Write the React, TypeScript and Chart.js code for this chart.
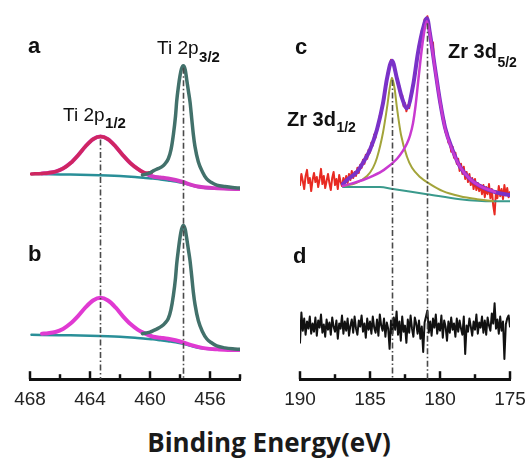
import React, { useEffect, useRef } from "react";
import { Chart, registerables } from "chart.js";

Chart.register(...registerables);

// ---------------- Ti 2p (panels a and b) ----------------
const TI_TICKS = [468, 466, 464, 462, 460, 458, 456, 454];
const TI_MAJOR = [468, 464, 460, 456];

const TI_BG_E = [467.9, 466, 464, 462, 461, 460.3, 459.8, 459.3, 458.8, 458.3, 457.8, 457.3, 456.8, 456.3, 455.5, 454];
const TI_BG_A = [203, 202.5, 202, 201, 200, 199, 198.5, 197.5, 196.5, 195.5, 194, 192, 190, 189, 188.5, 188];
const TI_BG_B = [44, 43.5, 43, 42, 41, 40, 39.5, 38.5, 37.5, 36.5, 35, 33, 31, 30, 29.5, 29];

const TI_P12_E = [467.2, 466.8, 466.3, 465.8, 465.3, 464.8, 464.3, 463.8, 463.3, 462.8, 462.3, 461.8, 461.3, 460.8, 460.3, 459.8, 459.3, 458.8, 458.3, 457.8, 457.3, 456.8, 456.3, 455.5, 454.8, 454];
const TI_P12_A = [203.5, 204, 205.3, 208.3, 213.7, 221.4, 230.2, 237.3, 240, 237.3, 230.2, 221.4, 213.5, 207.8, 203.5, 200.5, 199.5, 198.5, 197, 195, 192.5, 190.5, 189.5, 188.8, 188.3, 188];
const TI_P12_B = [45, 45.5, 46.7, 49.7, 55, 62.4, 71, 77.8, 80.5, 77.8, 71, 62.2, 54.5, 48.8, 45, 42, 41, 40, 38.5, 36.5, 34, 32, 30.5, 29.5, 29, 29];

const TI_RAW_E = [467.9, 467.2, 466.8, 466.3, 465.8, 465.3, 464.8, 464.3, 463.8, 463.3, 462.8, 462.3, 461.8, 461.3, 460.8, 460.3, 459.9];
const TI_RAW_A = [203, 203.5, 204, 205.3, 208.3, 213.7, 221.4, 230.2, 237.3, 240, 237.3, 230.2, 221.4, 213.5, 207.8, 204, 204.5];

const TI_P32_E = [460.5, 460.0, 459.78, 459.5, 459.22, 459.0, 458.78, 458.6, 458.44, 458.3, 458.22, 458.1, 458.0, 457.9, 457.78, 457.65, 457.55, 457.44, 457.33, 457.22, 457.11, 457.0, 456.78, 456.5, 456.22, 455.9, 455.55, 455.0, 454.5, 454.0];
const TI_P32_A = [202, 204, 206, 208, 210, 213, 218, 227, 242, 260, 275, 290, 300, 307, 310, 306, 296, 285, 274, 258, 242, 230, 215, 205, 198, 194.5, 192, 190.5, 189.5, 189];
const TI_P32_B = [45, 46.5, 48, 50, 52.5, 55.5, 60, 69, 83, 100, 114, 129, 140, 148, 152, 148, 139, 128, 117, 102, 86, 74, 58, 47, 40, 36, 33, 31, 30, 29.5];

const TI_VLINES_E = [463.33, 457.78];
const TI_VLINES_TOP = [237, 308];

// ---------------- Zr 3d (panels c and d) ----------------
const ZR_TICKS = [190, 187.5, 185, 182.5, 180, 177.5, 175];
const ZR_MAJOR = [190, 185, 180, 175];

const ZR_E = [
  190, 189.9, 189.8, 189.7, 189.6, 189.5, 189.4, 189.3, 189.2, 189.1,
  189, 188.9, 188.8, 188.7, 188.6, 188.5, 188.4, 188.3, 188.2, 188.1,
  188, 187.9, 187.8, 187.7, 187.6, 187.5, 187.4, 187.3, 187.2, 187.1,
  187, 186.9, 186.8, 186.7, 186.6, 186.5, 186.4, 186.3, 186.2, 186.1,
  186, 185.9, 185.8, 185.7, 185.6, 185.5, 185.4, 185.3, 185.2, 185.1,
  185, 184.9, 184.8, 184.7, 184.6, 184.5, 184.4, 184.3, 184.2, 184.1,
  184, 183.9, 183.8, 183.7, 183.6, 183.5, 183.4, 183.3, 183.2, 183.1,
  183, 182.9, 182.8, 182.7, 182.6, 182.5, 182.4, 182.3, 182.2, 182.1,
  182, 181.9, 181.8, 181.7, 181.6, 181.5, 181.4, 181.3, 181.2, 181.1,
  181, 180.9, 180.8, 180.7, 180.6, 180.5, 180.4, 180.3, 180.2, 180.1,
  180, 179.9, 179.8, 179.7, 179.6, 179.5, 179.4, 179.3, 179.2, 179.1,
  179, 178.9, 178.8, 178.7, 178.6, 178.5, 178.4, 178.3, 178.2, 178.1,
  178, 177.9, 177.8, 177.7, 177.6, 177.5, 177.4, 177.3, 177.2, 177.1,
  177, 176.9, 176.8, 176.7, 176.6, 176.5, 176.4, 176.3, 176.2, 176.1,
  176, 175.9, 175.8, 175.7, 175.6, 175.5, 175.4, 175.3, 175.2, 175.1,
  175,
];
const ZR_RAW_C = [
  192, 203, 196, 188, 201, 207, 194, 199, 186, 197,
  204, 195, 200, 190, 198, 208, 193, 201, 189, 196,
  203, 194, 187, 199, 205, 192, 198, 188, 202, 195,
  191, 199, 193, 201, 194, 203, 197, 206, 199, 205,
  201, 209, 204, 212, 209, 217, 213, 222, 218, 227,
  224, 234, 231, 242, 239, 249, 250, 261, 262, 273,
  275, 290, 294, 306, 307, 316, 314, 313, 303, 301,
  291, 290, 280, 281, 270, 273, 265, 271, 268, 280,
  282, 296, 298, 313, 318, 331, 334, 345, 346, 356,
  354, 359, 348, 343, 328, 333, 310, 304, 290, 286,
  272, 270, 257, 256, 244, 245, 234, 236, 225, 230,
  219, 224, 213, 218, 206, 213, 203, 210, 198, 205,
  195, 203, 192, 199, 188, 198, 187, 194, 186, 192,
  183, 192, 180, 190, 183, 193, 179, 188, 172, 163,
  186, 179, 191, 181, 188, 178, 192, 182, 189, 180,
  185,
];
const ZR_RAW_D = [
  36, 66, 48, 60, 44, 57, 50, 62, 45, 55,
  47, 61, 43, 58, 51, 64, 46, 54, 42, 59,
  49, 56, 44, 61, 52, 47, 58, 40, 55, 50,
  63, 45, 57, 48, 60, 43, 53, 59, 46, 62,
  50, 44, 58, 52, 63, 47, 55, 41, 60, 49,
  57, 45, 62, 51, 46, 59, 43, 64, 53, 48,
  60, 42, 56, 50, 30, 58, 45, 61, 49, 67,
  44, 57, 38, 62, 47, 53, 36, 59, 46, 63,
  50, 42, 61, 55, 45, 58, 40, 52, 27, 56,
  62, 68, 46, 57, 43, 60, 51, 64, 45, 55,
  48, 63, 41, 58, 52, 38, 57, 46, 61, 49,
  55, 42, 60, 47, 58, 50, 44, 62, 25, 53,
  47, 60, 52, 43, 57, 49, 64, 45, 56, 51,
  62, 46, 58, 44, 61, 53, 48, 65, 55, 75,
  50, 59, 45, 62, 48, 57, 20, 54, 60, 63,
  52,
];

const ZR_ENV_E = [186.93, 186.64, 185.93, 185.5, 185, 184.5, 184.07, 183.79, 183.43, 183.07, 182.71, 182.36, 181.93, 181.57, 181.21, 180.93, 180.71, 180.36, 180, 179.64, 179.14, 178.57, 177.86, 177.14, 176.07, 175];
const ZR_ENV = [193, 197, 205, 214, 227, 247, 273, 297, 315, 297, 278, 268, 290, 323, 347, 357, 341, 308, 275, 249, 228, 210, 198, 191, 185, 182];

const ZR_D52_E = [186.93, 185.5, 184.79, 184, 183.07, 182.64, 182.36, 182.14, 181.93, 181.75, 181.57, 181.39, 181.21, 180.93, 180.71, 180.36, 180, 179.64, 179.14, 178.57, 177.86, 177.14, 176.07];
const ZR_D52 = [191, 197, 201, 207, 218, 226, 233, 241, 253, 270, 293, 316, 336, 354, 340, 307, 275, 248, 227, 210, 198, 191, 185];

const ZR_D32_E = [186.93, 186, 185.21, 184.79, 184.5, 184.07, 183.79, 183.6, 183.43, 183.25, 183.07, 182.79, 182.36, 182, 181.43, 180.71, 179.79, 178.57, 177.36, 176.21];
const ZR_D32 = [191, 194, 201, 209, 219, 244, 268, 287, 298, 288, 268, 242, 220, 209, 200, 193, 186, 181, 178, 176];

const ZR_BG_E = [186.93, 184.29, 183.36, 180.93, 178.57, 176.21, 175];
const ZR_BG = [190, 190, 188, 183, 178, 176, 176];

const ZR_VLINES_E = [183.43, 180.93];
const ZR_VLINES_TOP = [296, 352];

// ---------------- helpers ----------------
const pts = (xs: number[], ys: number[]) => xs.map((x, i) => ({ x, y: ys[i] }));

const line = (label: string, data: any[], color: string, width: number, smooth = true) => ({
  label,
  data,
  borderColor: color,
  backgroundColor: color,
  borderWidth: width,
  pointRadius: 0,
  fill: false,
  tension: 0,
  cubicInterpolationMode: smooth ? "monotone" : "default",
  borderCapStyle: "round",
  borderJoinStyle: "round",
});

type TextItem = { e: number; i: number; text: string; font: string; sub?: string; subFont?: string; subDy?: number };

function decorPlugin(vE: number[], vTop: number[], texts: TextItem[], major: number[]) {
  return {
    id: "xpsDecor",
    afterDatasetsDraw(chart: any) {
      const { ctx, chartArea, scales } = chart;
      const xs = scales.x;
      const ys = scales.y;
      ctx.save();
      ctx.strokeStyle = "#4a4a4a";
      ctx.lineWidth = 1.6;
      ctx.setLineDash([6, 2.5, 1.5, 2.5]);
      vE.forEach((e, k) => {
        const px = Math.round(xs.getPixelForValue(e)) + 0.5;
        ctx.beginPath();
        ctx.moveTo(px, ys.getPixelForValue(vTop[k]));
        ctx.lineTo(px, chartArea.bottom);
        ctx.stroke();
      });
      ctx.restore();
    },
    afterDraw(chart: any) {
      const { ctx, chartArea, scales } = chart;
      const xs = scales.x;
      const ys = scales.y;
      ctx.save();
      ctx.strokeStyle = "#111";
      ctx.lineWidth = 2.5;
      xs.ticks.forEach((t: any) => {
        const px = xs.getPixelForValue(t.value);
        const len = major.includes(t.value) ? 8 : 5;
        ctx.beginPath();
        ctx.moveTo(px, chartArea.bottom);
        ctx.lineTo(px, chartArea.bottom - len);
        ctx.stroke();
      });
      ctx.fillStyle = "#111";
      ctx.textBaseline = "alphabetic";
      ctx.textAlign = "left";
      texts.forEach((t) => {
        const x = xs.getPixelForValue(t.e);
        const y = ys.getPixelForValue(t.i);
        ctx.font = t.font;
        ctx.fillText(t.text, x, y);
        if (t.sub) {
          const w = ctx.measureText(t.text).width;
          ctx.font = t.subFont || t.font;
          ctx.fillText(t.sub, x + w + 0.5, y + (t.subDy || 6));
        }
      });
      ctx.restore();
    },
  };
}

function makeChart(
  canvas: HTMLCanvasElement,
  datasets: any[],
  xmin: number,
  xmax: number,
  ticks: number[],
  major: number[],
  padding: any,
  plugin: any
) {
  return new Chart(canvas, {
    type: "line",
    data: { datasets },
    plugins: [plugin],
    options: {
      animation: false,
      responsive: false,
      devicePixelRatio: 1,
      layout: { padding },
      plugins: { legend: { display: false }, tooltip: { enabled: false }, title: { display: false } },
      scales: {
        x: {
          type: "linear",
          reverse: true,
          min: xmin,
          max: xmax,
          afterBuildTicks: (scale: any) => {
            scale.ticks = ticks.map((v) => ({ value: v }));
          },
          grid: { display: false, drawTicks: false, drawOnChartArea: false },
          border: { display: true, color: "#111", width: 3 },
          ticks: {
            autoSkip: false,
            maxRotation: 0,
            minRotation: 0,
            padding: 9,
            color: "#222",
            font: { family: "'Liberation Sans', Arial, sans-serif", size: 19 },
            callback: (v: any) => (major.includes(Number(v)) ? String(v) : ""),
          },
        },
        y: { type: "linear", display: false, min: 0, max: 375 },
      },
    } as any,
  });
}

export default function App() {
  const leftRef = useRef<HTMLCanvasElement>(null);
  const rightRef = useRef<HTMLCanvasElement>(null);

  useEffect(() => {
    const tiTexts: TextItem[] = [
      { e: 468.13, i: 323, text: "a", font: "bold 22px 'Liberation Sans', Arial" },
      { e: 468.13, i: 117, text: "b", font: "bold 22px 'Liberation Sans', Arial" },
      { e: 459.53, i: 322, text: "Ti 2p", font: "19px 'Liberation Sans', Arial", sub: "3/2", subFont: "bold 15px 'Liberation Sans', Arial", subDy: 8 },
      { e: 465.8, i: 255, text: "Ti 2p", font: "19px 'Liberation Sans', Arial", sub: "1/2", subFont: "bold 15px 'Liberation Sans', Arial", subDy: 7 },
    ];
    const zrTexts: TextItem[] = [
      { e: 190.36, i: 322, text: "c", font: "bold 22px 'Liberation Sans', Arial" },
      { e: 190.5, i: 115, text: "d", font: "bold 22px 'Liberation Sans', Arial" },
      { e: 179.43, i: 318, text: "Zr 3d", font: "bold 20px 'Liberation Sans', Arial", sub: "5/2", subFont: "bold 14px 'Liberation Sans', Arial", subDy: 9 },
      { e: 190.93, i: 250, text: "Zr 3d", font: "bold 20px 'Liberation Sans', Arial", sub: "1/2", subFont: "bold 14px 'Liberation Sans', Arial", subDy: 6 },
    ];

    const tiSets = [
      line("Ti 2p3/2 (a)", pts(TI_P32_E, TI_P32_A), "#42716b", 3.5),
      line("Ti 2p3/2 (b)", pts(TI_P32_E, TI_P32_B), "#42716b", 3.5),
      line("data (a)", pts(TI_RAW_E, TI_RAW_A), "#cf2660", 3.5),
      line("Ti 2p1/2 (a)", pts(TI_P12_E, TI_P12_A), "#d23bc4", 4),
      line("Ti 2p1/2 (b)", pts(TI_P12_E, TI_P12_B), "#e03ad2", 4),
      line("background (a)", pts(TI_BG_E, TI_BG_A), "#2a8f98", 2.5),
      line("background (b)", pts(TI_BG_E, TI_BG_B), "#2a8f98", 2.5),
    ];
    const zrSets = [
      line("Zr 3d5/2", pts(ZR_D52_E, ZR_D52), "#c93ad0", 2.5),
      line("envelope", pts(ZR_ENV_E, ZR_ENV), "#7a32c8", 4),
      line("Zr 3d3/2", pts(ZR_D32_E, ZR_D32), "#a3a43a", 2),
      line("background (c)", pts(ZR_BG_E, ZR_BG), "#3a9a8c", 2),
      line("data (c)", pts(ZR_E, ZR_RAW_C), "#e82a22", 2, false),
      line("data (d)", pts(ZR_E, ZR_RAW_D), "#111111", 2, false),
    ];

    const c1 = makeChart(
      leftRef.current!,
      tiSets,
      454,
      468,
      TI_TICKS,
      TI_MAJOR,
      { left: 30, right: 22, top: 0, bottom: 0 },
      decorPlugin(TI_VLINES_E, TI_VLINES_TOP, tiTexts, TI_MAJOR)
    );
    const c2 = makeChart(
      rightRef.current!,
      zrSets,
      175,
      190,
      ZR_TICKS,
      ZR_MAJOR,
      { left: 38, right: 25, top: 0, bottom: 0 },
      decorPlugin(ZR_VLINES_E, ZR_VLINES_TOP, zrTexts, ZR_MAJOR)
    );
    return () => {
      c1.destroy();
      c2.destroy();
    };
  }, []);

  return (
    <div style={{ position: "fixed", left: 0, top: 0, width: 527, height: 458, background: "#fff", overflow: "hidden" }}>
      <canvas ref={leftRef} width={262} height={420} style={{ position: "absolute", left: 0, top: 0, width: 262, height: 420 }} />
      <canvas ref={rightRef} width={273} height={420} style={{ position: "absolute", left: 262, top: 0, width: 273, height: 420 }} />
      <div
        style={{
          position: "absolute",
          left: 0,
          top: 427,
          width: 527,
          textAlign: "center",
          paddingLeft: 11,
          boxSizing: "border-box",
          fontFamily: "'Open Sans', sans-serif",
          fontWeight: 700,
          fontSize: 26,
          lineHeight: "30px",
          color: "#1a1a1a",
          whiteSpace: "nowrap",
        }}
      >
        Binding Energy(eV)
      </div>
    </div>
  );
}
